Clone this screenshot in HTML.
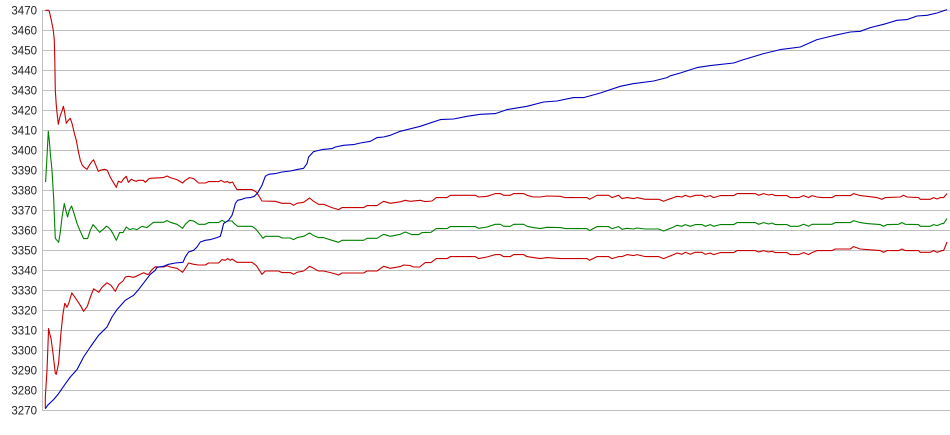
<!DOCTYPE html>
<html><head><meta charset="utf-8"><style>
html,body{margin:0;padding:0;background:#fff;}
svg{display:block;}
text{font-family:"Liberation Sans",Arial,sans-serif;font-size:11.5px;fill:#222;}
</style></head><body>
<svg width="950" height="435" viewBox="0 0 950 435" xmlns="http://www.w3.org/2000/svg">
<g stroke="#c0c0c0" stroke-width="1" shape-rendering="crispEdges">
<line x1="42" y1="10.5" x2="950" y2="10.5"/>
<line x1="42" y1="30.5" x2="950" y2="30.5"/>
<line x1="42" y1="50.5" x2="950" y2="50.5"/>
<line x1="42" y1="70.5" x2="950" y2="70.5"/>
<line x1="42" y1="90.5" x2="950" y2="90.5"/>
<line x1="42" y1="110.5" x2="950" y2="110.5"/>
<line x1="42" y1="130.5" x2="950" y2="130.5"/>
<line x1="42" y1="150.5" x2="950" y2="150.5"/>
<line x1="42" y1="170.5" x2="950" y2="170.5"/>
<line x1="42" y1="190.5" x2="950" y2="190.5"/>
<line x1="42" y1="210.5" x2="950" y2="210.5"/>
<line x1="42" y1="230.5" x2="950" y2="230.5"/>
<line x1="42" y1="250.5" x2="950" y2="250.5"/>
<line x1="42" y1="270.5" x2="950" y2="270.5"/>
<line x1="42" y1="290.5" x2="950" y2="290.5"/>
<line x1="42" y1="310.5" x2="950" y2="310.5"/>
<line x1="42" y1="330.5" x2="950" y2="330.5"/>
<line x1="42" y1="350.5" x2="950" y2="350.5"/>
<line x1="42" y1="370.5" x2="950" y2="370.5"/>
<line x1="42" y1="390.5" x2="950" y2="390.5"/>
<line x1="42" y1="410.5" x2="950" y2="410.5"/>
<line x1="42.5" y1="10" x2="42.5" y2="411"/>
</g>
<g text-anchor="end">
<text x="37" y="14.5">3470</text>
<text x="37" y="34.5">3460</text>
<text x="37" y="54.5">3450</text>
<text x="37" y="74.5">3440</text>
<text x="37" y="94.5">3430</text>
<text x="37" y="114.5">3420</text>
<text x="37" y="134.5">3410</text>
<text x="37" y="154.5">3400</text>
<text x="37" y="174.5">3390</text>
<text x="37" y="194.5">3380</text>
<text x="37" y="214.5">3370</text>
<text x="37" y="234.5">3360</text>
<text x="37" y="254.5">3350</text>
<text x="37" y="274.5">3340</text>
<text x="37" y="294.5">3330</text>
<text x="37" y="314.5">3320</text>
<text x="37" y="334.5">3310</text>
<text x="37" y="354.5">3300</text>
<text x="37" y="374.5">3290</text>
<text x="37" y="394.5">3280</text>
<text x="37" y="414.5">3270</text>
</g>
<g fill="none" stroke-width="1.1" stroke-linejoin="round" transform="translate(0.3,0.3)">
<polyline stroke="#c80000" points="45,10 48,10 49,11 51,20 53,30 54,40 54.5,60 55,90 56,105 57,115 58,124 60,115 62,110 63,106 64,110 66,123 68,120 70,118 72,124 74,133 76,140 78,151 80,160 82,165 84,167 86.7,169 89,165 91,162 93.3,159.5 96,166 98,171 100,170 104,169 107,170 110,177 113,182 116,187 118,181 121,182 123,179 126,176 128,182 131,179 133,180 136,181 138,180 140,180 143,180 145,182 148,179 150,178 163,177.3 166.7,175.7 170,177.3 176.7,179.3 182.3,182.7 185,180 189.3,177.3 193.3,178.3 198.3,182.7 205,182.7 208.3,181.3 218.3,181.3 220.7,180 224,182 227.3,181.3 229.3,182.7 232.3,181.7 234,185 236.7,189.3 251.7,189.3 256,191.7 261.7,200.7 275,201 281.7,203 290,203 293.3,205 296.7,203 303.3,202 309.3,197.7 313.3,201 318.3,204 323.3,204 331.7,207.3 338.3,209.3 341.7,207.3 363.3,207.3 366.7,205.3 376.7,205.3 383.3,201 390,203 400,201.5 405,200 410,201 420,200 425,201.3 431.7,200.7 436,197.3 446.7,197.3 450,195 475,195 478.3,196.7 486.7,196 495,193.3 500,193.3 503.3,195 510,195 513.3,193.3 523.3,193.3 526.7,195 533.3,196.7 540,196.7 546.7,195.7 560,196 565,197.3 586.7,197.3 589.3,199 596.7,195 608.3,195 611.7,197.3 618.3,195 621.7,198.3 626.7,197.3 633.3,198.3 636.7,197.3 645,199 658.3,199 663.3,201 668.3,199 673.3,197.3 676.7,196 681.7,196.7 685,195 690,196.7 695,195 701.7,195 705,196.7 710,195.3 713.3,197.3 720,195.3 733.3,195.3 736.7,193.3 755,193.3 758.3,195 763.3,193.3 768.3,194.7 771.7,194 775,195.3 786.7,195.3 790,197.3 798.3,197.3 803.3,195.3 808.3,197.3 811.7,195.3 816.7,196.7 821.7,197.3 831.7,197.3 835,195.3 850,195.3 853.3,193.3 860,195.3 866.7,196 876.7,197.3 881.7,199 885,197.3 900,196.7 903.3,195 906.7,196.7 918.3,197.3 920,199 930,199 933.3,197.3 936.7,198.7 940,197.3 943.3,197.3 946.7,193.3"/>
<polyline stroke="#008000" points="45.3,181.7 46.5,160 48,131 49,140 50,153 51.7,170 53.3,197 54,215 55,238 58.3,242 60,232 61.7,217 64,203.3 65.5,210 67.3,216.7 69,210 71.3,205.7 74,214 76.7,223 80,231 83.3,238.3 87.3,238.3 90,230 92.7,224.3 96,228 99.3,232 103,229 106,226 108,227 110.7,230 113,234 116,240 119.3,232.3 122.7,232.3 126,226.7 129.3,229.3 132.7,228.3 136.7,229.3 141.7,226 146.7,227.3 150,224.5 153.3,222 163.3,222 166.7,220.3 170,222 176.7,224 182.3,228 185,224 189.3,220 193.3,220.7 198.3,224 205,224 208.3,222.3 218.3,222.3 221.7,220 225,222 227.3,220.7 231.7,220.7 234,223.3 237.3,226 251.7,226 256,229.3 262.7,238 265,236 278.3,236 281.7,237.7 290,237.7 293.3,239.3 296.7,237.3 303.3,236 309.3,232.7 313.3,235.3 318.3,237.3 323.3,237.3 331.7,240 338.3,242 341.7,240 363.3,240 366.7,238 376.7,238 383.3,234 390,236 400,234 405,231.7 411.7,234.3 418.3,234.3 421.7,232.3 430.7,232 436,228.3 446.7,228.3 450,226.3 475,226.3 478.3,228 486.7,226.7 495,224 500,224 503.3,226 510,226 513.3,224 523.3,224 526.7,226 533.3,227.3 540,228.3 546.7,227 560,227.3 565,228.3 586.7,228.3 589.3,230.3 596.7,226.3 608.3,226.3 611.7,228.3 618.3,226.3 621.7,229 626.7,228 633.3,228.7 636.7,227.7 645,228.7 658.3,228.7 663.3,230.7 668.3,228.7 673.3,226.7 676.7,225 681.7,226 685,224.3 690,226 695,224.3 701.7,224.3 705,226 710,224.3 713.3,226 720,224.3 733.3,224.3 736.7,222.3 755,222.3 758.3,224 763.3,222.3 768.3,223.7 771.7,222.7 775,224.3 786.7,224.3 790,226 798.3,226 803.3,224 808.3,226 811.7,224 816.7,224 831.7,224 835,222.3 850,222.3 853.3,220.3 860,222.3 866.7,223.3 880,224.3 883.3,226 886.7,224.3 898.3,224 901.7,222.3 905,224 918.3,224.3 920,226 930,226 933.3,224.3 936.7,225.3 941.7,223.3 943.3,223.3 946.7,218.3"/>
<polyline stroke="#c80000" points="45,408 45,397 46.7,370 48.3,328.3 49.3,333 50.7,338 52.7,353 55,373 56,374 58.3,363 60.7,332 62.7,313.3 64.5,303 66.7,307 68.5,302.8 71.5,292.5 75,297.5 80,305 83.3,311 87,306 90,297 93.3,288.5 98.5,292 101.7,287 106.7,282.5 110.7,285 115,291 118.5,284 122.7,280.7 125,276.7 128.3,276 133.3,277 136,276 140,274 143.3,272.5 146.7,274 148.3,274 151.7,269.3 155,266.5 163.3,266.7 166.7,265.3 170,266.7 176.7,268 182.3,272 185,268 188.3,262.7 193.3,264 198.3,264.7 205,264.7 208.3,262.7 218.3,262.7 221.7,259.3 225,260 227.3,258.3 230,260 231.7,258.7 236.7,262 251.7,262 256,265.3 261.7,274 265,270.7 278.3,270.7 281.7,272.3 290,272.3 293.3,274 296.7,272 303.3,270.7 309.3,266 313.3,268 318.3,270.7 323.3,270.7 331.7,272.7 338.3,274.7 341.7,272.7 363.3,272.7 366.7,270.7 376.7,270.7 383.3,266 390,268 400,266.3 403.3,264.7 410,265.3 413.3,266.7 419.3,266.7 425,262.3 430.7,262.3 436,258.3 446.7,258.3 450,256.3 475,256.3 478.3,258.3 486.7,256.7 495,254.3 500,254.3 503.3,256.3 510,256.3 513.3,254.3 523.3,254.3 526.7,256.3 533.3,257.3 540,258.3 546.7,257.3 560,258.3 586.7,258.3 589.3,260 596.7,256.3 608.3,256.3 611.7,258.3 618.3,256.3 621.7,256.3 626.7,254.3 633.3,255.3 636.7,254.3 645,256.3 658.3,256.3 663.3,258.3 668.3,256.3 673.3,254.3 676.7,252.7 681.7,254 685,252 690,254 695,252 701.7,252 705,254 710,252.7 713.3,254.3 720,252.3 733.3,252.3 736.7,250.3 755,250.3 758.3,251.7 763.3,250.3 768.3,251.7 771.7,251 775,252.3 786.7,252.3 790,254.3 798.3,254.3 803.3,252.3 808.3,254.3 811.7,252.3 816.7,250.3 831.7,250.3 835,248.7 850,248.7 853.3,246.3 860,248.7 866.7,249.3 880,250.3 883.3,252 886.7,250.3 898.3,250.3 901.7,248.7 905,250.3 918.3,250.3 920,252 930,252 933.3,250.3 936.7,252 941.7,250.3 943.3,250.3 946.7,241.7"/>
<polyline stroke="#0000c0" points="45,408.5 47.3,405 53.3,399.3 58.3,393.3 63.3,386 70,376.7 76.7,369.3 83.3,356.7 90,346.7 98.3,335 106.7,326.7 111.7,316.7 116.7,309.3 125,300 133.3,295 138.3,289.3 146.7,278.3 150,274 155,270 156.7,267 163.3,266 168.3,264 175,262.7 182.7,262 185,256.7 188.3,251.7 193.3,250 196.7,246.7 200,241.7 205,240 210,239.3 216.7,237.3 220,236 221.7,230 223.3,223.3 228.3,220 231.7,215 233.3,210 235,203.3 237.3,200 241.7,199 245,197.7 250,197.3 254,196 257.3,192.7 261.7,185 265,176 268.3,174 275,173.3 281.7,171.7 290,170.7 296.7,169.3 303.3,168 306.7,163.3 308.3,156.7 313.3,151.3 321.7,149.3 331.7,148.3 335,146.7 343.3,145 353.3,144.3 360,142.7 370,141 376.7,137.3 383.3,136.7 390,135 400,131 420,126 440,119.3 453.3,118.7 466.7,116 480,114 495,113.3 506.7,109.3 526.7,106 543.3,101.7 556.7,100.7 573.3,97.3 583.3,97.3 600,92.7 620,86 633.3,83.3 653.3,80.7 666.7,77.3 670,75.5 680,72.7 696.7,67.3 710,65.3 733.3,62.7 743.3,59.3 763.3,53.3 780,49.3 800,46.7 816.7,39.3 833.3,35.3 850,31.7 860,31 870,27.3 883.3,24 896.7,20 906.7,19.3 916.7,15.7 926.7,15 936.7,12.7 946.7,9.3"/>
</g>
</svg>
</body></html>
